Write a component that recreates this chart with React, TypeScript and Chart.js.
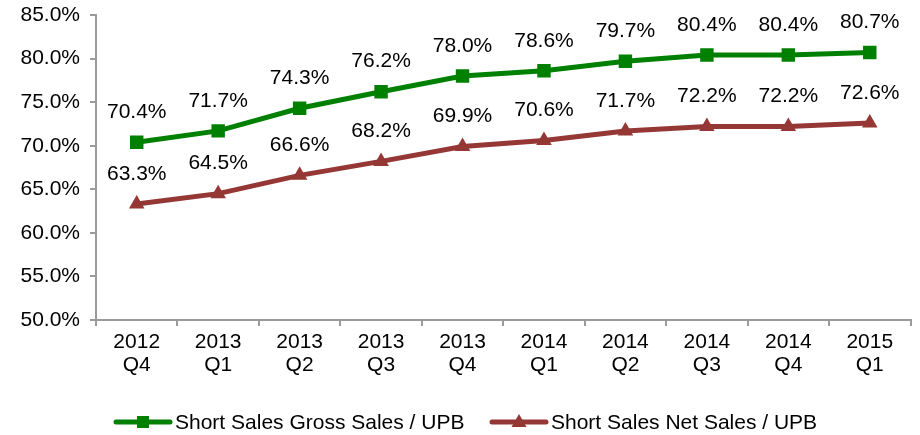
import React, { useEffect, useRef } from "react";
import { Chart, registerables } from "chart.js";

Chart.register(...registerables);

const categories: string[][] = [
  ["2012", "Q4"], ["2013", "Q1"], ["2013", "Q2"], ["2013", "Q3"], ["2013", "Q4"],
  ["2014", "Q1"], ["2014", "Q2"], ["2014", "Q3"], ["2014", "Q4"], ["2015", "Q1"],
];
const grossLabel = "Short Sales Gross Sales / UPB";
const netLabel = "Short Sales Net Sales / UPB";
const grossValues = [70.4, 71.7, 74.3, 76.2, 78.0, 78.6, 79.7, 80.4, 80.4, 80.7];
const netValues = [63.3, 64.5, 66.6, 68.2, 69.9, 70.6, 71.7, 72.2, 72.2, 72.6];
const yMin = 50;
const yMax = 85;
const yStep = 5;

const GREEN = "#008000";
const RED = "#953735";
const FONT = "'Liberation Sans', Arial, sans-serif";
const FS = 21;

const labelPlugin = {
  id: "valueLabels",
  afterDatasetsDraw(chart: any) {
    const ctx = chart.ctx;
    ctx.save();
    ctx.font = `${FS}px ${FONT}`;
    ctx.fillStyle = "#000";
    ctx.textAlign = "center";
    ctx.textBaseline = "middle";
    chart.data.datasets.forEach((ds: any, i: number) => {
      const meta = chart.getDatasetMeta(i);
      meta.data.forEach((pt: any, j: number) => {
        ctx.fillText(ds.data[j].toFixed(1) + "%", pt.x, pt.y - 30);
      });
    });
    ctx.restore();
  },
};

const legendPlugin = {
  id: "bottomLegend",
  afterDraw(chart: any) {
    const ctx = chart.ctx;
    const y = 422;
    const starts = [116, 492];
    ctx.save();
    chart.data.datasets.forEach((ds: any, i: number) => {
      const x0 = starts[i];
      const x1 = x0 + 54;
      ctx.strokeStyle = ds.borderColor;
      ctx.lineWidth = 5;
      ctx.lineCap = "round";
      ctx.beginPath();
      ctx.moveTo(x0, y);
      ctx.lineTo(x1, y);
      ctx.stroke();
      const cx = (x0 + x1) / 2;
      ctx.fillStyle = ds.borderColor;
      ctx.beginPath();
      if (ds.pointStyle === "rect") {
        ctx.rect(cx - 6, y - 6, 12, 12);
      } else {
        ctx.moveTo(cx, y - 8);
        ctx.lineTo(cx + 7.5, y + 5);
        ctx.lineTo(cx - 7.5, y + 5);
        ctx.closePath();
      }
      ctx.fill();
      ctx.fillStyle = "#000";
      ctx.font = `${FS}px ${FONT}`;
      ctx.textAlign = "left";
      ctx.textBaseline = "middle";
      ctx.fillText(ds.label, x1 + 5, y + 1);
    });
    ctx.restore();
  },
};

export default function App() {
  const ref = useRef<HTMLCanvasElement | null>(null);
  useEffect(() => {
    document.body.style.margin = "0";
    if (!ref.current) return;
    const chart = new Chart(ref.current, {
      type: "line",
      data: {
        labels: categories,
        datasets: [
          {
            label: grossLabel,
            data: grossValues,
            borderColor: GREEN,
            backgroundColor: GREEN,
            borderWidth: 5,
            pointStyle: "rect",
            pointRadius: 9.5,
            pointBorderWidth: 0,
            pointBackgroundColor: GREEN,
            tension: 0,
          },
          {
            label: netLabel,
            data: netValues,
            borderColor: RED,
            backgroundColor: RED,
            borderWidth: 5,
            pointStyle: "triangle",
            pointRadius: 9,
            pointBorderWidth: 0,
            pointBackgroundColor: RED,
            tension: 0,
          },
        ],
      },
      options: {
        responsive: false,
        animation: false,
        events: [],
        layout: { padding: { top: 15, right: 6, bottom: 50, left: 0 } },
        plugins: { legend: { display: false }, tooltip: { enabled: false } },
        scales: {
          x: {
            offset: true,
            grid: {
              display: true,
              offset: true,
              drawOnChartArea: false,
              drawTicks: true,
              tickLength: 6,
              color: "#9a9a9a",
              lineWidth: 2,
            },
            border: { display: true, color: "#9a9a9a", width: 2 },
            ticks: {
              color: "#000",
              font: { family: FONT, size: FS, lineHeight: 1.1 },
              padding: 5,
              maxRotation: 0,
              autoSkip: false,
            },
            afterFit: (s: any) => {
              s.height = 65;
              s.paddingLeft = 0;
              s.paddingRight = 0;
            },
          },
          y: {
            min: yMin,
            max: yMax,
            grid: {
              display: true,
              drawOnChartArea: false,
              drawTicks: true,
              tickLength: 6,
              color: "#9a9a9a",
              lineWidth: 2,
            },
            border: { display: true, color: "#9a9a9a", width: 2 },
            ticks: {
              stepSize: yStep,
              color: "#000",
              font: { family: FONT, size: FS },
              padding: 10,
              callback: (v: any) => Number(v).toFixed(1) + "%",
            },
            afterFit: (s: any) => {
              s.width = 96;
              s.paddingTop = 0;
              s.paddingBottom = 0;
            },
          },
        },
      },
      plugins: [labelPlugin, legendPlugin],
    });
    return () => chart.destroy();
  }, []);
  return (
    <div style={{ width: 920, height: 435, background: "#fff" }}>
      <canvas ref={ref} width={920} height={435} />
    </div>
  );
}
